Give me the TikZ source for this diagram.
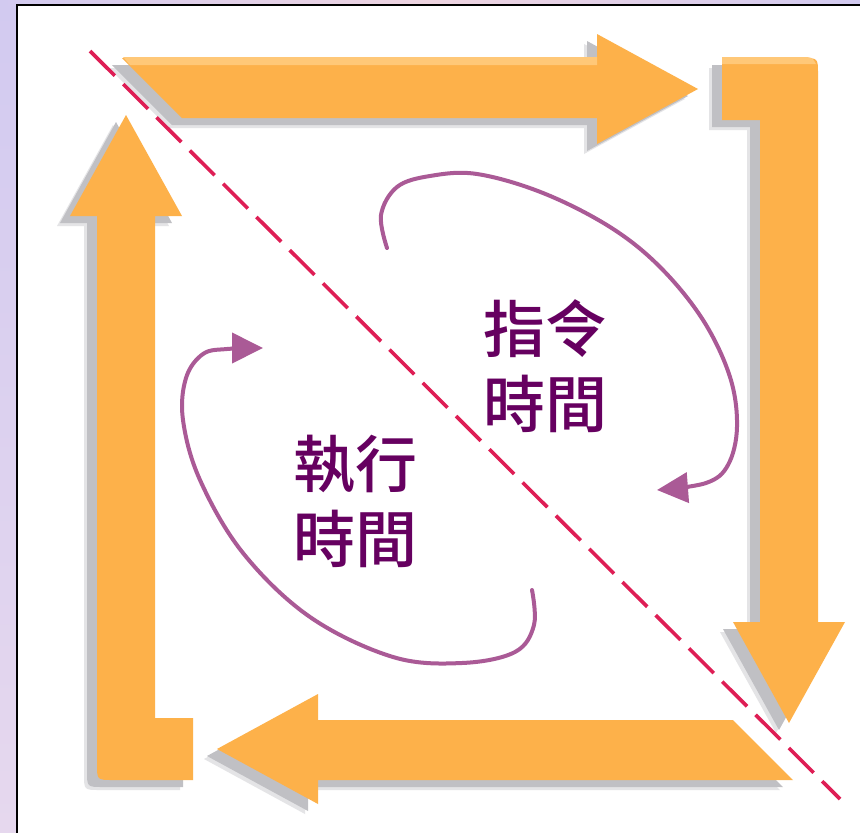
\documentclass[tikz,border=0pt]{standalone}
\usepackage{fontspec}
\newfontfamily\cjk{Noto Sans CJK TC}[UprightFont=* Medium]
\usetikzlibrary{arrows.meta}
\definecolor{arroworange}{RGB}{253,177,74}
\definecolor{arrowlight}{RGB}{255,200,120}
\definecolor{shadowA}{RGB}{192,192,196}
\definecolor{shadowB}{RGB}{228,228,230}
\definecolor{arcpurple}{RGB}{170,90,150}
\definecolor{txtpurple}{RGB}{102,0,96}
\definecolor{dashred}{RGB}{222,30,85}
\definecolor{stripA}{RGB}{210,202,240}
\definecolor{stripB}{RGB}{230,216,238}
\definecolor{stripC}{RGB}{238,212,224}
\newcommand\orangeshapes[1]{%
  % top arrow (pointing right)
  \fill[#1] (122,58) -- (597,58) -- (597,34) -- (698,89) -- (597,144) -- (597,118) -- (182,118) -- cycle;
  % right arrow (pointing down)
  \fill[#1] (722,58) -- (802,58) .. controls (818,58) .. (818,74) -- (818,622) -- (845,622) -- (789,723) -- (733,622) -- (760,622) -- (760,120) -- (722,120) -- cycle;
  % bottom arrow (pointing left)
  \fill[#1] (793,780) -- (318,780) -- (318,804) -- (217,749) -- (318,694) -- (318,720) -- (733,720) -- cycle;
  % left arrow (pointing up)
  \fill[#1] (193,780) -- (113,780) .. controls (97,780) .. (97,764) -- (97,216) -- (70,216) -- (126,115) -- (182,216) -- (155,216) -- (155,718) -- (193,718) -- cycle;
}
\tikzset{
  txt/.style={text=txtpurple, align=center, inner sep=0pt, font=\cjk\fontsize{62}{75}\selectfont},
  arcline/.style={draw=arcpurple, line width=4pt, line cap=round, -{Triangle[length=31pt,width=30pt]}},
  dashline/.style={draw=dashred, line width=3.6pt, dash pattern=on 35pt off 12pt}
}
\begin{document}
\begin{tikzpicture}[x=1pt,y=-1pt]
\clip (0,0) rectangle (860,833);
% background
\shade[top color=stripA, bottom color=stripB] (0,0) rectangle (17,833);
\shade[left color=stripA, right color=stripA, middle color=stripC] (0,0) rectangle (860,5);
\fill[white] (17,5) rectangle (870,840);
\draw[line width=2pt, black] (17,840) -- (17,5) -- (870,5);
% shadows
\begin{scope}[shift={(-13,10)}]\orangeshapes{shadowB}\end{scope}
\begin{scope}[shift={(-10,7)}]\orangeshapes{shadowA}\end{scope}
% arrows
\orangeshapes{arroworange}
% light top edges
\fill[arrowlight] (123,57) -- (597,57) -- (597,65) -- (130,65) -- cycle;
\fill[arrowlight] (722,57) -- (802,57) .. controls (812,57) .. (816,64) -- (722,64) -- cycle;
% diagonal dashed line
\coordinate (d1) at (90,51);
\coordinate (d2) at (840,799);
\draw[dashline] (d1) -- (d2);
% curved arrows
\draw[arcline] plot[smooth, tension=0.6] coordinates {(387,248) (381,215) (397,187) (430,176) (477,174) (543,193) (610,227) (660,267) (703,320) (730,377) (737,427) (728,465) (706,483) (657,490)};
\draw[arcline] plot[smooth, tension=0.6] coordinates {(532,590) (534,625) (515,652) (462,663) (393,657) (310,617) (243,553) (200,480) (183,420) (186,378) (203,354) (227,349) (263,348)};
% labels
\node[txt] (instr) at (545,366) {指令\\時間};
\node[txt] (exec) at (355,501) {執行\\時間};
\end{tikzpicture}
\end{document}
